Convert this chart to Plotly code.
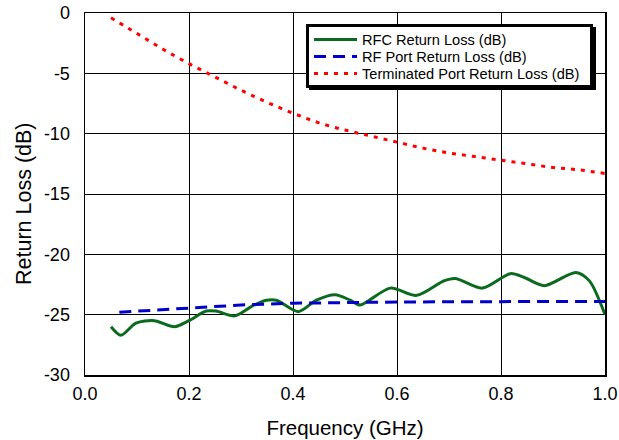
import plotly.graph_objects as go

# Terminated port return loss (red dotted)
term_f = [0.05, 0.10, 0.15, 0.20, 0.25, 0.30, 0.35, 0.40, 0.45, 0.50,
          0.55, 0.60, 0.65, 0.70, 0.75, 0.80, 0.85, 0.90, 0.95, 1.00]
term_rl = [-0.4, -1.7, -3.0, -4.2, -5.3, -6.4, -7.4, -8.3, -9.1, -9.7,
           -10.2, -10.7, -11.2, -11.6, -11.9, -12.2, -12.5, -12.8, -13.0, -13.3]

# RF port return loss (blue dashed)
rf_f = [0.066, 0.2, 0.3, 0.4, 0.5, 0.6, 0.8, 1.0]
rf_rl = [-24.8, -24.45, -24.2, -24.05, -24.0, -23.95, -23.92, -23.9]

# RFC return loss (green solid)
rfc_f = [0.050, 0.069, 0.098, 0.133, 0.172, 0.200, 0.233, 0.252, 0.288, 0.323,
         0.349, 0.368, 0.410, 0.445, 0.481, 0.510, 0.529, 0.587, 0.638, 0.690,
         0.712, 0.764, 0.818, 0.844, 0.883, 0.944, 0.970, 1.000]
rfc_rl = [-26.0, -26.7, -25.7, -25.5, -26.0, -25.5, -24.7, -24.7, -25.1, -24.25,
          -23.8, -23.8, -24.75, -23.8, -23.35, -23.8, -24.2, -22.8, -23.4, -22.2,
          -22.0, -22.8, -21.6, -21.9, -22.6, -21.5, -22.2, -25.0]

series_names = ["RFC Return Loss (dB)", "RF Port Return Loss (dB)",
                "Terminated Port Return Loss (dB)"]

x_ticks = [0.0, 0.2, 0.4, 0.6, 0.8, 1.0]
x_tick_labels = ["0.0", "0.2", "0.4", "0.6", "0.8", "1.0"]
y_ticks = [0, -5, -10, -15, -20, -25, -30]
y_tick_labels = ["0", "-5", "-10", "-15", "-20", "-25", "-30"]

font = "Liberation Sans, Arial, sans-serif"
W, H = 619, 440
L, R, T, B = 85, 14, 13, 65
PW, PH = W - L - R, H - T - B


def px_x(p):
    return (p - L) / PW


def px_y(p):
    return 1 - (p - T) / PH


styles = [
    dict(color="#0a6a1e", width=3),
    dict(color="#0000cc", width=3, dash="12px,7px"),
    dict(color="#ff0000", width=3, dash="4px,6px"),
]

fig = go.Figure()
fig.add_trace(go.Scatter(x=rfc_f, y=rfc_rl, mode="lines", name=series_names[0],
                         line=dict(**styles[0], shape="spline", smoothing=0.8)))
fig.add_trace(go.Scatter(x=rf_f, y=rf_rl, mode="lines", name=series_names[1],
                         line=dict(**styles[1])))
fig.add_trace(go.Scatter(x=term_f, y=term_rl, mode="lines", name=series_names[2],
                         line=dict(**styles[2], shape="spline")))

# legend box with shadow
fig.add_shape(type="rect", xref="paper", yref="paper",
              x0=px_x(309), x1=px_x(596), y0=px_y(90), y1=px_y(27),
              fillcolor="black", line=dict(width=0), layer="above")
fig.add_shape(type="rect", xref="paper", yref="paper",
              x0=px_x(307.5), x1=px_x(591.5), y0=px_y(86.5), y1=px_y(25.5),
              fillcolor="white", line=dict(color="black", width=3), layer="above")

row_y = [39.5, 56.5, 73.5]
for name, st, ry in zip(series_names, styles, row_y):
    fig.add_shape(type="line", xref="paper", yref="paper",
                  x0=px_x(314), x1=px_x(357), y0=px_y(ry), y1=px_y(ry),
                  line=st, layer="above")
    fig.add_annotation(text=name, xref="paper", yref="paper",
                       x=px_x(360), y=px_y(ry), xanchor="left", yanchor="middle",
                       showarrow=False, font=dict(family=font, size=14.6, color="black"))

# y-axis title (placed as in the reference, slightly below plot centre)
fig.add_annotation(text="Return Loss (dB)", xref="paper", yref="paper",
                   x=px_x(24), y=px_y(204), xanchor="center", yanchor="middle",
                   textangle=-90, showarrow=False,
                   font=dict(family=font, size=21.5, color="black"))

fig.update_layout(
    width=W, height=H,
    margin=dict(l=L, r=R, t=T, b=B, autoexpand=False),
    paper_bgcolor="white", plot_bgcolor="white",
    font=dict(family=font, size=18, color="black"),
    showlegend=False,
    hovermode=False,
    xaxis=dict(range=[0, 1], tickvals=x_ticks, ticktext=x_tick_labels,
               showgrid=True, gridcolor="black", gridwidth=1,
               showline=True, linecolor="black", linewidth=1.5, mirror=True,
               zeroline=False, ticks="", ticklabelstandoff=2, automargin=False,
               title=dict(text="Frequency (GHz)", font=dict(size=20.5), standoff=17)),
    yaxis=dict(range=[-30, 0], tickvals=y_ticks, ticktext=y_tick_labels,
               showgrid=True, gridcolor="black", gridwidth=1,
               showline=True, linecolor="black", linewidth=1.5, mirror=True,
               zeroline=False, ticks="", ticklabelstandoff=10, automargin=False),
)

fig.write_html("out.html", config={"displayModeBar": False, "staticPlot": True},
               post_script="document.body.style.margin='0px';document.body.style.padding='0px';")
